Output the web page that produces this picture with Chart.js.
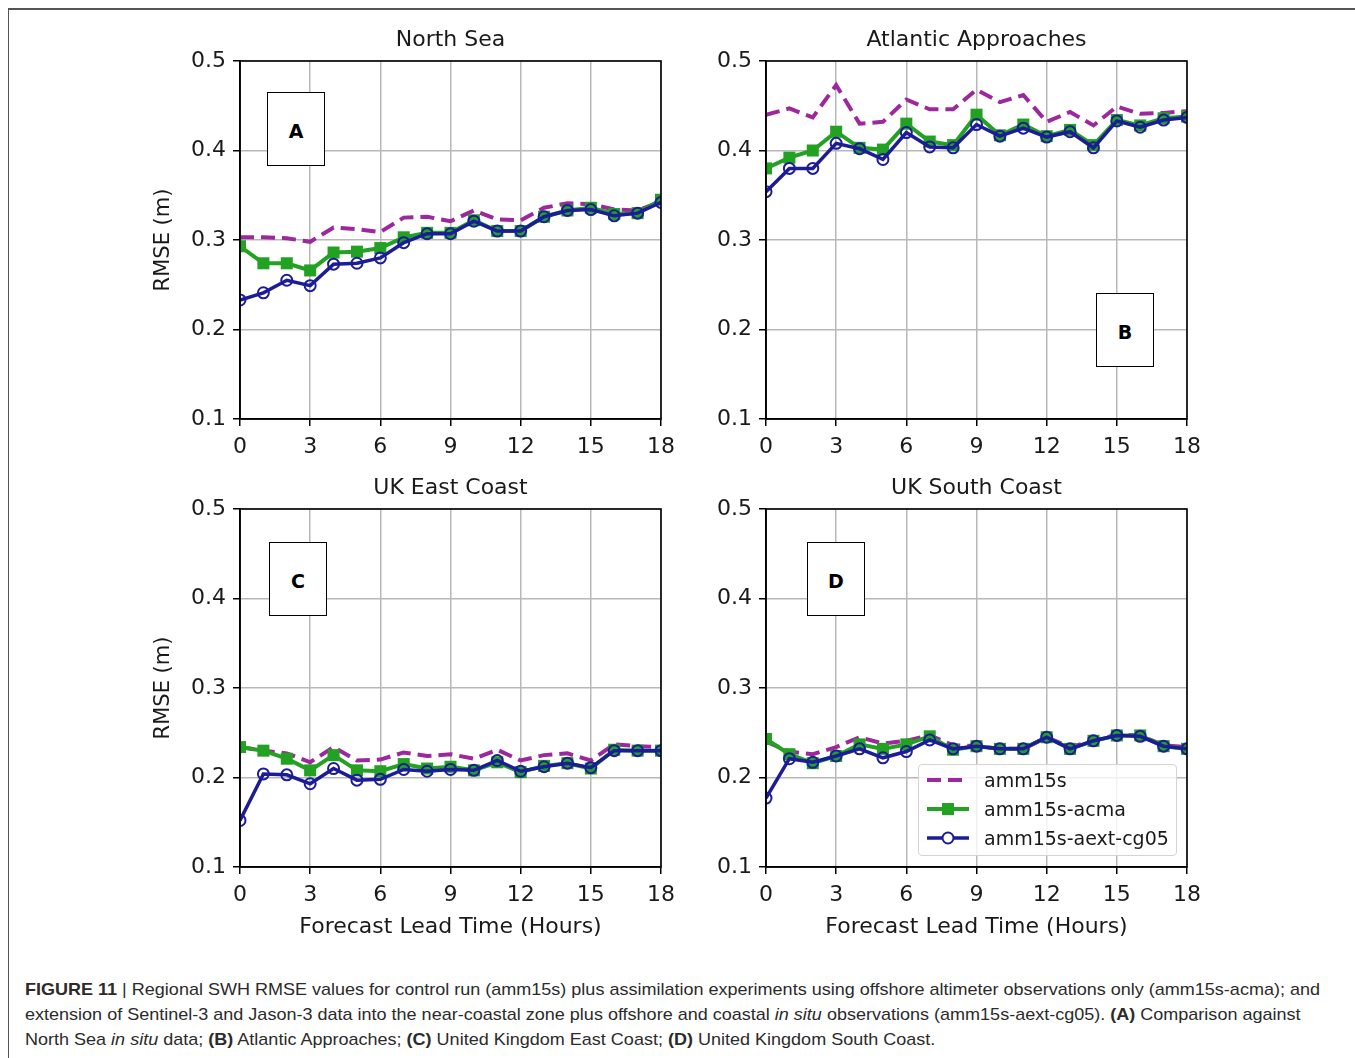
<!DOCTYPE html>
<html>
<head>
<meta charset="utf-8">
<script src="https://cdn.jsdelivr.net/npm/chart.js@4.4.1/dist/chart.umd.min.js"></script>
<style>
body{margin:0;background:#fff;width:1355px;height:1058px;position:relative;overflow:hidden;font-family:"DejaVu Sans"}
.frame{position:absolute;left:8px;top:8px;width:1347px;height:1050px;border-top:2px solid #555;border-left:1.5px solid #555;box-sizing:border-box}
canvas{position:absolute}
.tag{position:absolute;width:58px;height:74px;border:1px solid #000;background:#fff;font:bold 19px "DejaVu Sans";color:#000;display:flex;align-items:center;justify-content:center;padding-top:4px;box-sizing:border-box;z-index:2}
.legend{position:absolute;left:918px;top:764px;width:259px;height:92px;border:1px solid #d4d4d4;border-radius:4px;background:rgba(255,255,255,0.8);box-sizing:border-box;z-index:2}
.legend .row{display:flex;align-items:center;height:29px;font-size:19px;color:#1a1a1a}
.legend svg{margin-left:6px;margin-right:13px}
.caption{position:absolute;left:25px;top:977px;font:17px "Liberation Sans";line-height:25px;color:#2b2b2b;white-space:nowrap;transform-origin:0 0}
</style>
</head>
<body>
<div class="frame"></div>
<canvas id="northSea" width="545" height="460" style="left:140px;top:15px"></canvas>
<canvas id="atlantic" width="545" height="460" style="left:666px;top:15px"></canvas>
<canvas id="eastCoast" width="545" height="482" style="left:140px;top:463px"></canvas>
<canvas id="southCoast" width="545" height="482" style="left:666px;top:463px"></canvas>
<div class="tag" style="left:267px;top:92px">A</div>
<div class="tag" style="left:1096px;top:293px">B</div>
<div class="tag" style="left:269px;top:542px">C</div>
<div class="tag" style="left:807px;top:542px">D</div>
<div class="legend" id="legend"></div>
<div class="caption" id="caption">
<span id="line1"><b>FIGURE 11</b> | Regional SWH RMSE values for control run (amm15s) plus assimilation experiments using offshore altimeter observations only (amm15s-acma); and</span><br>
extension of Sentinel-3 and Jason-3 data into the near-coastal zone plus offshore and coastal <i>in situ</i> observations (amm15s-aext-cg05). <b>(A)</b> Comparison against<br>
North Sea <i>in situ</i> data; <b>(B)</b> Atlantic Approaches; <b>(C)</b> United Kingdom East Coast; <b>(D)</b> United Kingdom South Coast.
</div>
<script>
// forecast lead time (hours)
const hours = [0,1,2,3,4,5,6,7,8,9,10,11,12,13,14,15,16,17,18];
const seriesNames = ['amm15s', 'amm15s-acma', 'amm15s-aext-cg05'];

// North Sea
const northAmm = [0.303,0.303,0.302,0.298,0.314,0.312,0.309,0.325,0.326,0.321,0.333,0.323,0.322,0.336,0.341,0.340,0.334,0.333,0.343];
const northAcma = [0.293,0.274,0.274,0.266,0.286,0.287,0.291,0.303,0.308,0.308,0.322,0.310,0.310,0.326,0.333,0.336,0.329,0.330,0.345];
const northAext = [0.233,0.241,0.255,0.249,0.273,0.274,0.280,0.297,0.307,0.307,0.321,0.310,0.310,0.326,0.333,0.334,0.327,0.330,0.342];

// Atlantic Approaches
const atlAmm = [0.440,0.447,0.437,0.473,0.430,0.432,0.457,0.446,0.446,0.468,0.454,0.462,0.432,0.443,0.428,0.449,0.441,0.442,0.444];
const atlAcma = [0.380,0.392,0.400,0.421,0.403,0.401,0.430,0.410,0.406,0.440,0.417,0.429,0.416,0.423,0.406,0.434,0.428,0.436,0.438];
const atlAext = [0.354,0.380,0.380,0.408,0.402,0.390,0.420,0.404,0.403,0.429,0.416,0.425,0.415,0.421,0.403,0.433,0.426,0.434,0.437];

// UK East Coast
const eastAmm = [0.234,0.230,0.227,0.217,0.234,0.219,0.220,0.228,0.224,0.226,0.221,0.231,0.219,0.225,0.227,0.219,0.237,0.235,0.234];
const eastAcma = [0.234,0.230,0.221,0.208,0.225,0.208,0.207,0.215,0.210,0.212,0.208,0.217,0.206,0.213,0.216,0.210,0.231,0.230,0.230];
const eastAext = [0.152,0.204,0.203,0.193,0.210,0.197,0.198,0.209,0.207,0.209,0.208,0.219,0.207,0.212,0.216,0.211,0.230,0.230,0.230];

// UK South Coast
const southAmm = [0.240,0.229,0.226,0.234,0.245,0.238,0.241,0.247,0.236,0.235,0.232,0.232,0.245,0.234,0.241,0.248,0.247,0.236,0.234];
const southAcma = [0.243,0.226,0.216,0.224,0.237,0.232,0.237,0.246,0.231,0.235,0.232,0.232,0.245,0.232,0.241,0.247,0.247,0.235,0.232];
const southAext = [0.177,0.221,0.217,0.224,0.232,0.222,0.229,0.242,0.232,0.235,0.232,0.232,0.245,0.232,0.241,0.247,0.246,0.235,0.232];

const xTicks = [0, 3, 6, 9, 12, 15, 18];
const yTicks = [0.1, 0.2, 0.3, 0.4, 0.5];

const colAmm = '#9d279d';
const colAcma = '#22a122';
const colAext = '#1c1c99';

Chart.defaults.font.family = 'DejaVu Sans';
Chart.defaults.color = '#1a1a1a';

// matplotlib style box round the axes
const spines = {
  id: 'spines',
  afterDatasetsDraw(chart) {
    const {ctx, chartArea} = chart;
    ctx.save();
    ctx.strokeStyle = '#000';
    ctx.lineWidth = 1.6;
    ctx.strokeRect(chartArea.left, chartArea.top, chartArea.right - chartArea.left, chartArea.bottom - chartArea.top);
    ctx.restore();
  }
};

function toPoints(vals) {
  return hours.map((h, i) => ({x: h, y: vals[i]}));
}

function makePanel(id, title, amm, acma, aext, showYTitle, showXTitle) {
  return new Chart(document.getElementById(id), {
    type: 'line',
    data: {
      datasets: [{
        label: seriesNames[0],
        data: toPoints(amm),
        borderColor: colAmm,
        borderWidth: 4,
        borderDash: [14, 7],
        pointRadius: 0,
        order: 2
      }, {
        label: seriesNames[1],
        data: toPoints(acma),
        borderColor: colAcma,
        borderWidth: 4,
        pointStyle: 'rect',
        pointRadius: 8.5,
        pointBorderWidth: 0,
        pointBackgroundColor: colAcma,
        order: 1
      }, {
        label: seriesNames[2],
        data: toPoints(aext),
        borderColor: colAext,
        borderWidth: 3.5,
        pointStyle: 'circle',
        pointRadius: 5.5,
        pointBorderWidth: 2,
        pointBorderColor: colAext,
        pointBackgroundColor: 'rgba(0,0,0,0)',
        order: 0
      }]
    },
    options: {
      responsive: false,
      animation: false,
      events: [],
      layout: {padding: {left: 0, right: 24, top: 0, bottom: 0}},
      plugins: {
        legend: {display: false},
        tooltip: {enabled: false},
        title: {
          display: true,
          fullSize: false,
          text: title,
          color: '#1a1a1a',
          font: {size: 22, weight: 'normal'},
          padding: {top: 12, bottom: 7.6}
        }
      },
      scales: {
        x: {
          type: 'linear',
          min: xTicks[0],
          max: xTicks[xTicks.length - 1],
          afterBuildTicks: s => { s.ticks = xTicks.map(v => ({value: v})); },
          ticks: {font: {size: 22}, padding: 8, maxRotation: 0, color: '#1a1a1a'},
          grid: {color: '#b8b8b8', lineWidth: 1.5, tickColor: '#000', tickLength: 7, tickWidth: 1.5},
          border: {color: '#000', width: 1.6},
          title: {
            display: showXTitle,
            text: 'Forecast Lead Time (Hours)',
            font: {size: 22},
            color: '#1a1a1a',
            padding: {top: 0, bottom: 5}
          },
          afterFit: s => { s.height = showXTitle ? 78 : 56; }
        },
        y: {
          min: yTicks[0],
          max: yTicks[yTicks.length - 1],
          afterBuildTicks: s => { s.ticks = yTicks.map(v => ({value: v})); },
          ticks: {font: {size: 22}, padding: 7, color: '#1a1a1a', callback: v => v.toFixed(1)},
          grid: {color: '#b8b8b8', lineWidth: 1.5, tickColor: '#000', tickLength: 7, tickWidth: 1.5},
          border: {color: '#000', width: 1.6},
          title: {
            display: showYTitle,
            text: 'RMSE (m)',
            font: {size: 21},
            color: '#1a1a1a',
            padding: {top: 11, bottom: 0}
          },
          afterFit: s => { s.width = 100; }
        }
      }
    },
    plugins: [spines]
  });
}

makePanel('northSea', 'North Sea', northAmm, northAcma, northAext, true, false);
makePanel('atlantic', 'Atlantic Approaches', atlAmm, atlAcma, atlAext, false, false);
makePanel('eastCoast', 'UK East Coast', eastAmm, eastAcma, eastAext, true, true);
const southChart = makePanel('southCoast', 'UK South Coast', southAmm, southAcma, southAext, false, true);

// legend in the South Coast panel, built from that chart's datasets
const legendBox = document.getElementById('legend');
southChart.data.datasets.forEach(ds => {
  const row = document.createElement('div');
  row.className = 'row';
  let handle = '<line x1="2" y1="10" x2="44" y2="10" stroke="' + ds.borderColor + '" stroke-width="' + ds.borderWidth + '"' +
    (ds.borderDash ? ' stroke-dasharray="' + ds.borderDash.join(' ') + '"' : '') + '/>';
  if (ds.pointStyle === 'rect') {
    handle += '<rect x="17" y="4" width="12" height="12" fill="' + ds.borderColor + '"/>';
  } else if (ds.pointStyle === 'circle') {
    handle += '<circle cx="23" cy="10" r="5.5" fill="#fff" stroke="' + ds.borderColor + '" stroke-width="2"/>';
  }
  row.innerHTML = '<svg width="46" height="20">' + handle + '</svg><span>' + ds.label + '</span>';
  legendBox.appendChild(row);
});

// fit the caption's first line to the figure width
const cap = document.getElementById('caption');
const w1 = document.getElementById('line1').getBoundingClientRect().width;
cap.style.transform = 'scaleX(' + (1295 / w1) + ')';
</script>
</body>
</html>
